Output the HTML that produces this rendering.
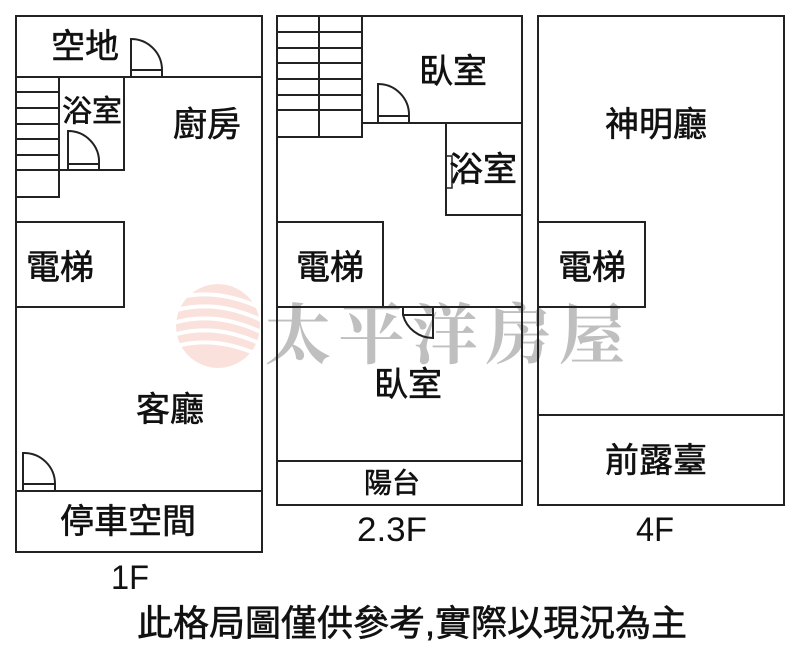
<!DOCTYPE html>
<html><head><meta charset="utf-8"><style>
html,body{margin:0;padding:0;background:#fff;}
svg{display:block}
text{font-family:"Liberation Sans","Noto Sans CJK TC",sans-serif;fill:#111;}
.l{stroke:#111;stroke-width:0.6;}
</style></head><body>
<svg width="800" height="663" viewBox="0 0 800 663" xmlns="http://www.w3.org/2000/svg">
<defs>
<clipPath id="c"><circle cx="218" cy="326" r="42"/></clipPath>
</defs>
<g clip-path="url(#c)" opacity="0.55">
<circle cx="218" cy="326" r="42" fill="#f6c9c0"/>
<g stroke="#fff" stroke-width="4" fill="none">
<path d="M170 300 Q215 285 265 310"/>
<path d="M170 312 Q215 297 265 322"/>
<path d="M170 324 Q215 309 265 334"/>
<path d="M170 336 Q215 321 265 346"/>
<path d="M170 348 Q215 333 265 358"/>
</g>
</g>
<text x="265" y="358" font-size="66" style="font-family:'Noto Serif CJK SC',serif;fill:#aaa;font-weight:bold" opacity="0.75" textLength="360">太平洋房屋</text>

<g fill="none" stroke="#222" stroke-width="2">
<rect x="16" y="16" width="246" height="536"/>
<line x1="16" y1="77" x2="262" y2="77"/>
<line x1="16" y1="491" x2="262" y2="491"/>
<polyline points="59,77 59,197 16,197"/>
<polyline points="59,170 124,170 124,77"/>
<line x1="16" y1="92" x2="59" y2="92"/>
<line x1="16" y1="108" x2="59" y2="108"/>
<line x1="16" y1="124" x2="59" y2="124"/>
<line x1="16" y1="139" x2="59" y2="139"/>
<line x1="16" y1="155" x2="59" y2="155"/>
<line x1="16" y1="170" x2="59" y2="170"/>
<rect x="16" y="222" width="108" height="85"/>
<path d="M131 77 V39 A31 31 0 0 1 162 70 V77 M131 70 H162"/>
<path d="M68 170 V131 A31 31 0 0 1 99 164 V170 M68 164 H99"/>
<path d="M23 491 V453 A31 31 0 0 1 55 484 V491 M23 484 H55"/>
<rect x="277" y="16" width="245" height="489"/>
<rect x="277" y="16" width="85" height="121"/>
<line x1="319" y1="16" x2="319" y2="137"/>
<line x1="277" y1="32" x2="362" y2="32"/>
<line x1="277" y1="48" x2="362" y2="48"/>
<line x1="277" y1="63" x2="362" y2="63"/>
<line x1="277" y1="79" x2="362" y2="79"/>
<line x1="277" y1="95" x2="362" y2="95"/>
<line x1="277" y1="110" x2="362" y2="110"/>
<line x1="362" y1="123" x2="522" y2="123"/>
<path d="M378 123 V84 A31 31 0 0 1 409 116 V123 M378 116 H409"/>
<rect x="446" y="123" width="76" height="92"/>
<path d="M447 156 H452 V188 H447" stroke-width="1.5"/>
<rect x="277" y="222" width="106" height="85"/>
<line x1="277" y1="307" x2="522" y2="307"/>
<path d="M403 307 V315 A31 31 0 0 0 433 338 V307 M403 315 H433"/>
<line x1="277" y1="461" x2="522" y2="461"/>
<rect x="538" y="16" width="246" height="489"/>
<rect x="538" y="222" width="107" height="85"/>
<line x1="538" y1="415" x2="784" y2="415"/>
</g>

<g font-size="34" text-anchor="middle" dominant-baseline="central" class="l">
<text x="85" y="47">空地</text>
<text x="92" y="112" font-size="30">浴室</text>
<text x="207" y="125">廚房</text>
<text x="60" y="268">電梯</text>
<text x="170" y="410">客廳</text>
<text x="128" y="522">停車空間</text>
<text x="453" y="72">臥室</text>
<text x="483" y="170">浴室</text>
<text x="330" y="268">電梯</text>
<text x="408" y="385">臥室</text>
<text x="392" y="483" font-size="28">陽台</text>
<text x="656" y="125">神明廳</text>
<text x="592" y="268">電梯</text>
<text x="656" y="461">前露臺</text>
<text x="412" y="623" font-size="36">此格局圖僅供參考,實際以現況為主</text>
</g>
<g font-size="34" text-anchor="middle" dominant-baseline="central">
<text x="392" y="530" textLength="70" lengthAdjust="spacingAndGlyphs">2.3F</text>
<text x="655" y="530" textLength="38" lengthAdjust="spacingAndGlyphs">4F</text>
<text x="130" y="578" textLength="38" lengthAdjust="spacingAndGlyphs">1F</text>
</g>
</svg>
</body></html>
